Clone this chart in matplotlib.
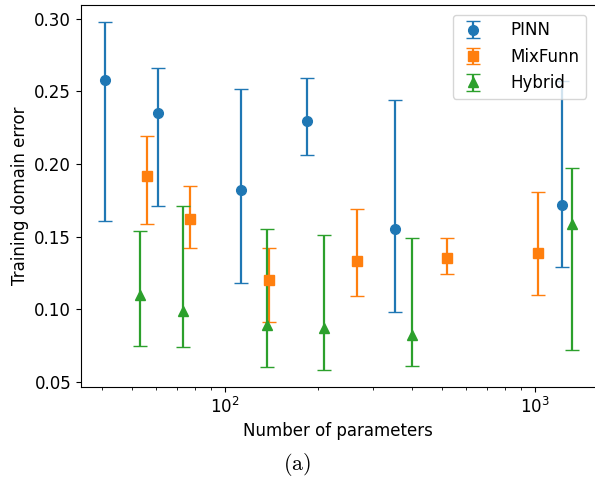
import matplotlib.pyplot as plt

plt.rcParams['mathtext.fontset'] = 'cm'

# PINN
pinn_n = [41, 61, 113, 184, 353, 1225]
pinn_err = [0.258, 0.235, 0.182, 0.230, 0.155, 0.172]
pinn_lo = [0.161, 0.171, 0.118, 0.206, 0.098, 0.129]
pinn_hi = [0.298, 0.266, 0.252, 0.259, 0.244, 0.257]

# MixFunn
mix_n = [56, 77, 139, 266, 519, 1022]
mix_err = [0.192, 0.162, 0.120, 0.133, 0.135, 0.139]
mix_lo = [0.159, 0.142, 0.091, 0.109, 0.124, 0.110]
mix_hi = [0.219, 0.185, 0.142, 0.169, 0.149, 0.181]

# Hybrid
hyb_n = [53, 73, 137, 208, 402, 1318]
hyb_err = [0.110, 0.099, 0.089, 0.087, 0.082, 0.159]
hyb_lo = [0.075, 0.074, 0.060, 0.058, 0.061, 0.072]
hyb_hi = [0.154, 0.171, 0.155, 0.151, 0.149, 0.197]


def bornes(v, lo, hi):
    return [[a - b for a, b in zip(v, lo)], [b - a for a, b in zip(v, hi)]]


fig = plt.figure(figsize=(5.95, 4.82), dpi=100)
ax = fig.add_axes([0.136, 0.197, 0.8655, 0.793])

ax.errorbar(pinn_n, pinn_err, yerr=bornes(pinn_err, pinn_lo, pinn_hi),
            fmt='o', markersize=7, capsize=5, elinewidth=1.6, label='PINN')
ax.errorbar(mix_n, mix_err, yerr=bornes(mix_err, mix_lo, mix_hi),
            fmt='s', markersize=7, capsize=5, elinewidth=1.6, label='MixFunn')
ax.errorbar(hyb_n, hyb_err, yerr=bornes(hyb_err, hyb_lo, hyb_hi),
            fmt='^', markersize=7, capsize=5, elinewidth=1.6, label='Hybrid')

ax.set_xscale('log')
ax.set_xlim(34.3, 1570)
ax.set_ylim(0.0464, 0.3097)
ax.set_xlabel('Number of parameters', fontsize=12)
ax.set_ylabel('Training domain error', fontsize=12)
ax.tick_params(labelsize=12)
ax.legend(loc='upper right', fontsize=12, borderaxespad=0.6,
          handlelength=1.6, handletextpad=1.45)

fig.text(0.5, 0.037, r'$\mathrm{(a)}$', ha='center', va='center', fontsize=16)

fig.savefig('out.png', dpi=100)
